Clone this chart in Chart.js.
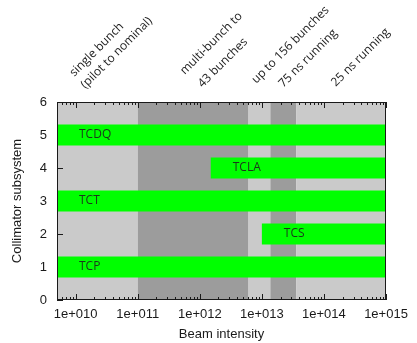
<!DOCTYPE html>
<html>
<head>
<meta charset="utf-8">
<script src="https://cdn.jsdelivr.net/npm/chart.js@4/dist/chart.umd.min.js"></script>
<style>
  html, body { margin: 0; padding: 0; background: #fff; }
  canvas { display: block; }
</style>
</head>
<body>
<canvas id="c" width="417" height="343"></canvas>
<script>
// Collimator subsystems and the beam intensity range over which each is needed
const collimators    = ['TCP', 'TCS', 'TCT', 'TCLA', 'TCDQ'];
const subsystemLevel = [1, 2, 3, 4, 5];
const intensityFrom  = [5e9, 1e13, 5e9, 1.5e12, 5e9];
const intensityTo    = [1e15, 1e15, 1e15, 1e15, 1e15];

// Operating stages along the intensity axis (band edges) and their shading
const stageEdges = [5e9, 1e11, 6.1e12, 1.37e13, 3.6e13, 1e15];
const stageKind  = ['light', 'dark', 'light', 'dark', 'light'];

// Stage captions written diagonally above the plot, one entry per text line
const stageCaptions = ['single bunch', '(pilot to nominal)', 'multi-bunch to', '43 bunches',
                       'up to 156 bunches', '75 ns running', '25 ns running'];
const captionIntensity = [9.5e9, 1.43e10, 5.7e11, 1.1e12, 8.1e12, 2.2e13, 1.55e14];

// Axis ticks
const xDecades      = [1e10, 1e11, 1e12, 1e13, 1e14, 1e15];
const xDecadeLabels = ['1e+010', '1e+011', '1e+012', '1e+013', '1e+014', '1e+015'];
const yTickValues   = [0, 1, 2, 3, 4, 5, 6];

// ---- drawing settings ----
const SHADE = { light: '#cacaca', dark: '#9c9c9c' };
const BAR_GREEN = '#00ff00';
const CAPTION_RAISE = [25, 13, 27, 14, 18, 14, 15];   // px above the plot top
const X_MIN = 5e9, X_MAX = 1e15;

const isDecade = v => xDecades.some(d => Math.abs(v / d - 1) < 1e-9);

const decorations = {
  id: 'decorations',
  beforeDatasetsDraw(chart) {
    const { ctx, chartArea: a, scales: { x, y } } = chart;
    ctx.save();
    // stage bands
    stageKind.forEach((k, i) => {
      const x0 = x.getPixelForValue(stageEdges[i]);
      const x1 = x.getPixelForValue(stageEdges[i + 1]);
      ctx.fillStyle = SHADE[k];
      ctx.fillRect(x0, a.top, x1 - x0, a.bottom - a.top);
    });
    // inward tick marks
    ctx.strokeStyle = '#1a1a1a';
    ctx.lineWidth = 1;
    ctx.beginPath();
    x.ticks.forEach(t => {
      const px = Math.round(x.getPixelForValue(t.value)) + 0.5;
      const len = isDecade(t.value) ? 6 : 3;
      ctx.moveTo(px, a.bottom); ctx.lineTo(px, a.bottom - len);
      ctx.moveTo(px, a.top);    ctx.lineTo(px, a.top + len);
    });
    y.ticks.forEach(t => {
      const py = Math.round(y.getPixelForValue(t.value)) + 0.5;
      ctx.moveTo(a.left, py); ctx.lineTo(a.left + 6, py);
    });
    ctx.stroke();
    ctx.restore();
  },
  afterDatasetsDraw(chart) {
    const { ctx, chartArea: a, scales: { x } } = chart;
    ctx.save();
    // collimator names inside the bars
    ctx.font = '12px "Open Sans"';
    ctx.fillStyle = '#1c361c';
    ctx.textBaseline = 'middle';
    ctx.textAlign = 'left';
    chart.getDatasetMeta(0).data.forEach((el, i) => {
      const start = Math.min(el.x, el.base);
      ctx.fillText(collimators[i], start + 22, el.y);
    });
    // frame
    ctx.strokeStyle = '#1a1a1a';
    ctx.lineWidth = 1;
    ctx.strokeRect(a.left + 0.5, a.top + 0.5, a.right - a.left - 1, a.bottom - a.top - 1);
    // diagonal stage captions
    ctx.fillStyle = '#222';
    ctx.textBaseline = 'alphabetic';
    stageCaptions.forEach((txt, i) => {
      ctx.save();
      ctx.translate(x.getPixelForValue(captionIntensity[i]), a.top - CAPTION_RAISE[i]);
      ctx.rotate(-Math.PI / 4);
      ctx.fillText(txt, 0, 0);
      ctx.restore();
    });
    ctx.restore();
  }
};

new Chart(document.getElementById('c'), {
  type: 'bar',
  data: {
    datasets: [{
      data: subsystemLevel.map((lvl, i) => ({ x: [intensityFrom[i], intensityTo[i]], y: lvl })),
      backgroundColor: BAR_GREEN,
      borderWidth: 0,
      categoryPercentage: 1,
      barPercentage: 0.64
    }]
  },
  options: {
    indexAxis: 'y',
    responsive: false,
    animation: false,
    events: [],
    layout: { padding: { top: 102, right: 31, left: 0, bottom: 0 } },
    plugins: { legend: { display: false }, tooltip: { enabled: false } },
    scales: {
      x: {
        type: 'logarithmic',
        min: X_MIN,
        max: X_MAX,
        offset: false,
        grid: { display: false, drawTicks: false },
        border: { display: false },
        afterBuildTicks(scale) {
          const ticks = [];
          for (let e = 9; e <= 15; e++) {
            for (let k = 1; k <= 9; k++) {
              const v = k * Math.pow(10, e);
              if (v >= X_MIN * 0.999999 && v <= X_MAX * 1.000001) ticks.push({ value: v });
            }
          }
          scale.ticks = ticks;
        },
        afterFit(scale) { scale.height = 43; },
        ticks: {
          autoSkip: false,
          maxRotation: 0,
          minRotation: 0,
          padding: 7,
          color: '#1a1a1a',
          font: { family: '"Liberation Sans", Arial, sans-serif', size: 13 },
          callback(value) {
            const i = xDecades.findIndex(d => Math.abs(value / d - 1) < 1e-9);
            return i >= 0 ? xDecadeLabels[i] : '';
          }
        },
        title: {
          display: true,
          text: 'Beam intensity',
          color: '#1a1a1a',
          padding: { top: 0, bottom: 0.5 },
          font: { family: '"Liberation Sans", Arial, sans-serif', size: 13 }
        }
      },
      y: {
        type: 'linear',
        min: 0,
        max: 6,
        offset: false,
        grid: { display: false, drawTicks: false },
        border: { display: false },
        afterBuildTicks(scale) { scale.ticks = yTickValues.map(v => ({ value: v })); },
        afterFit(scale) { scale.width = 57; },
        ticks: {
          padding: 10,
          color: '#1a1a1a',
          font: { family: '"Liberation Sans", Arial, sans-serif', size: 13 }
        },
        title: {
          display: true,
          text: 'Collimator subsystem',
          color: '#1a1a1a',
          padding: { top: 10, bottom: 0 },
          font: { family: '"Liberation Sans", Arial, sans-serif', size: 13 }
        }
      }
    }
  },
  plugins: [decorations]
});
</script>
</body>
</html>
